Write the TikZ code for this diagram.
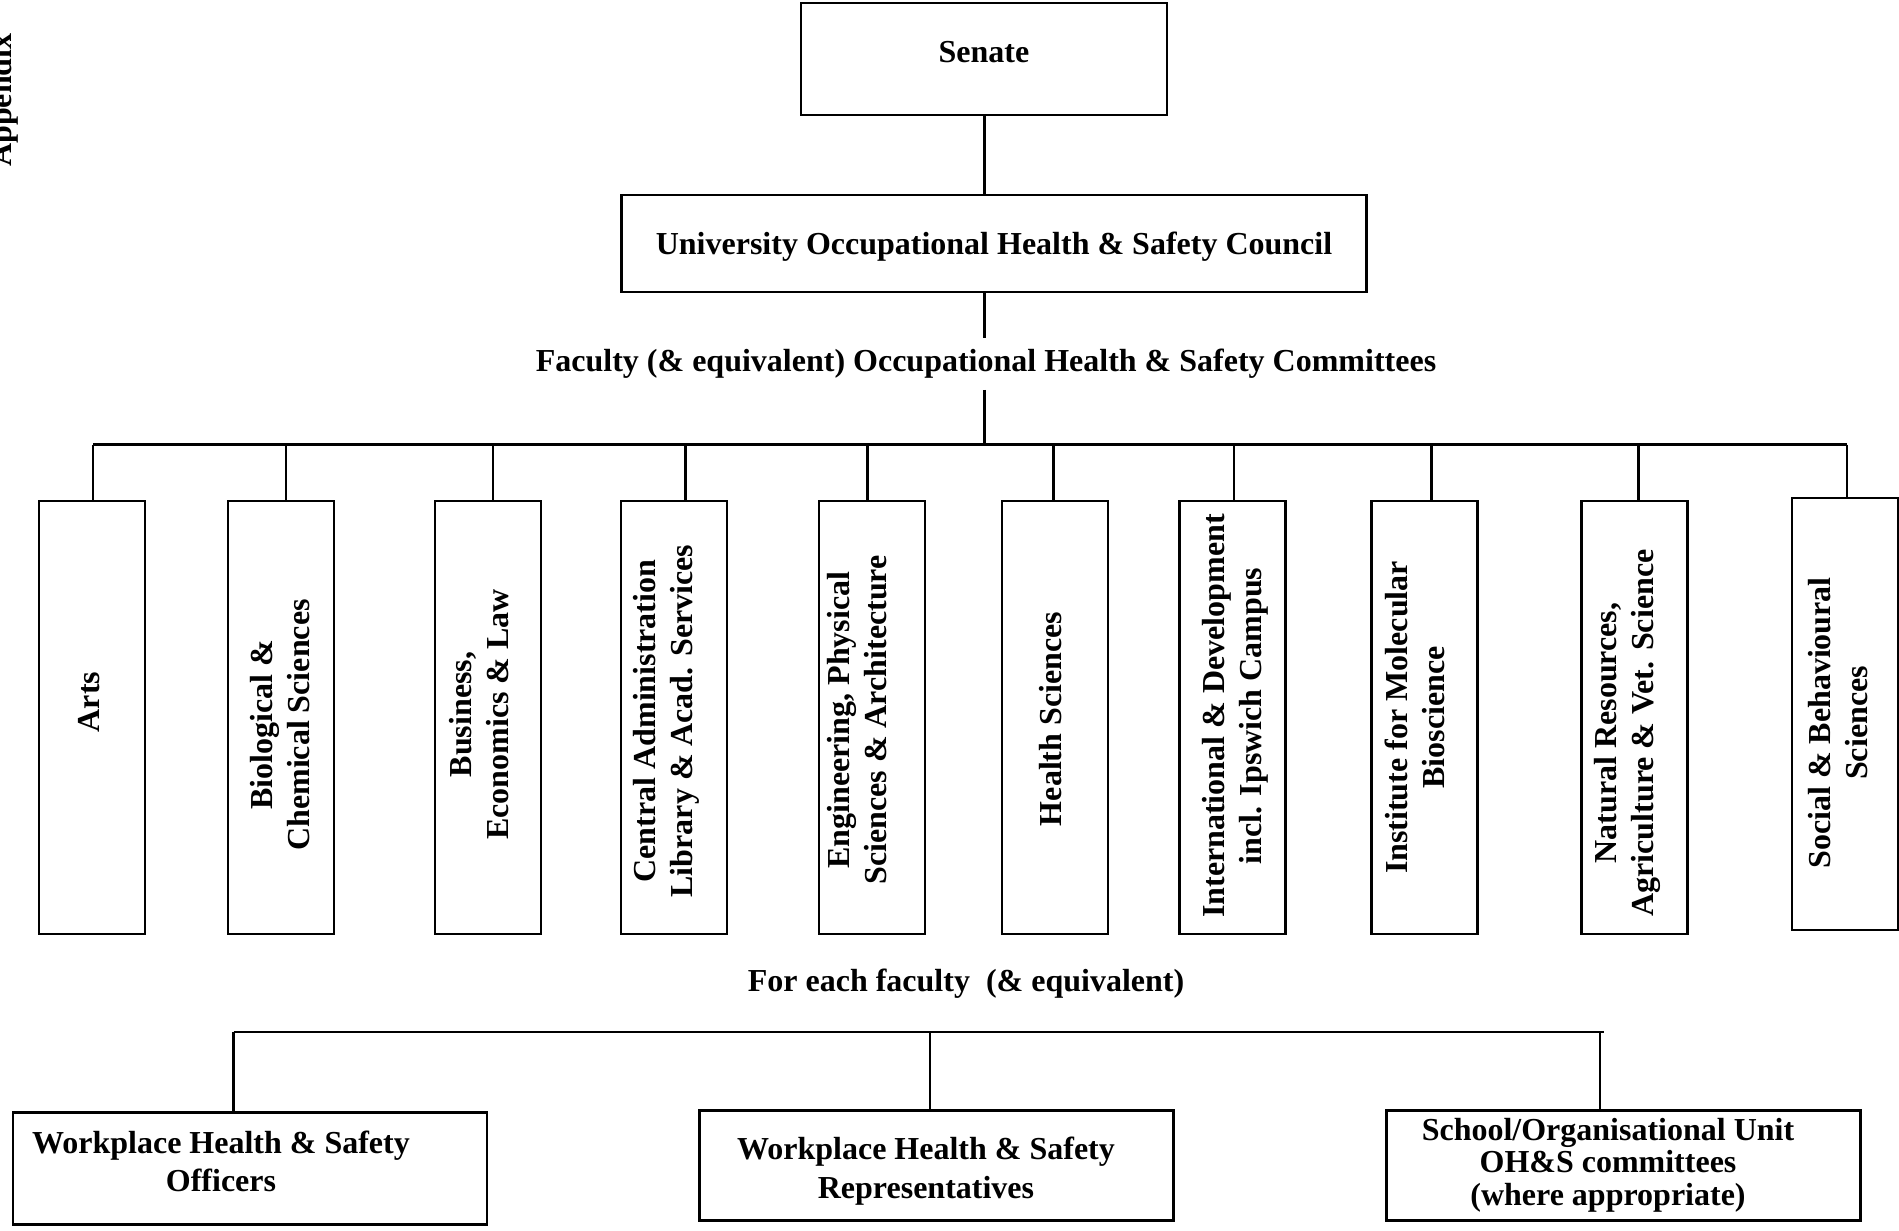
\documentclass[tikz,border=0pt]{standalone}
\usepackage{fontspec}
\setmainfont{Liberation Serif}
\begin{document}
\begin{tikzpicture}[x=1pt,y=-1pt,
  box/.style={draw, line width=2.6pt, inner sep=0pt},
  fbox/.style={box, minimum width=106pt, minimum height=433pt},
  bbox/.style={box, minimum width=474pt, minimum height=110pt},
  txt/.style={font=\fontsize{32}{37}\selectfont\bfseries, align=center, inner sep=0pt},
  vtxt/.style={txt, rotate=90},
  conn/.style={line width=2.6pt}]
\useasboundingbox (0,0) rectangle (1899,1231);

% clipped side heading
\node[txt, rotate=90, anchor=base west] (appx) at (12,167) {Appendix};

% top
\node[box, minimum width=366pt, minimum height=112pt] (senate) at (984,59) {};
\node[txt] (senateT) at (984,52) {Senate};
\node[box, minimum width=745pt, minimum height=97pt] (uohs) at (993.7,243.5) {};
\node[txt] (uohsT) at (994,247) {University Occupational Health \& Safety Council};
\node[txt, inner ysep=11pt] (facT) at (986,364) {Faculty (\& equivalent) Occupational Health \& Safety Committees};

\coordinate (busC) at (984.6,444.5);
\draw[conn] (senate.south -| busC) -- (uohs.north -| busC);
\draw[conn] (uohs.south -| busC) -- (facT.north -| busC);
\draw[conn] (facT.south -| busC) -- (busC);

% faculty boxes
\node[fbox] (arts) at (92,717.5) {};
\node[fbox] (bio) at (281,717.5) {};
\node[fbox] (bel) at (488,717.5) {};
\node[fbox] (cent) at (674,717.5) {};
\node[fbox] (eng) at (872,717.5) {};
\node[fbox] (hlth) at (1055,717.5) {};
\node[fbox] (intl) at (1232.3,717.5) {};
\node[fbox] (imb) at (1424.3,717.5) {};
\node[fbox] (nat) at (1634.4,717.5) {};
\node[fbox, minimum height=432pt] (soc) at (1845.1,714) {};

\node[vtxt] (artsT) at (89.5,702) {Arts};
\node[vtxt] (bioT) at (280.5,725) {Biological \&\\Chemical Sciences};
\node[vtxt] (belT) at (479.5,714.5) {Business,\\Economics \& Law};
\node[vtxt] (centT) at (666,721) {Central Administration\\Library \& Acad. Services};
\node[vtxt] (engT) at (857.5,720) {Engineering, Physical\\Sciences \& Architecture};
\node[vtxt] (hlthT) at (1051,719) {Health Sciences};
\node[vtxt] (intlT) at (1235,716) {International \& Development\\incl. Ipswich Campus};
\node[vtxt] (imbT) at (1414.5,717.5) {Institute for Molecular\\Bioscience};
\node[vtxt] (natT) at (1627,733) {Natural Resources,\\Agriculture \& Vet. Science};
\node[vtxt] (socT) at (1838.5,723) {Social \& Behavioural\\Sciences};

\coordinate (dArts) at (93,444.5);
\coordinate (dBio) at (285.8,444.5);
\coordinate (dBel) at (493,444.5);
\coordinate (dCent) at (685.5,444.5);
\coordinate (dEng) at (867.2,444.5);
\coordinate (dHlth) at (1053.7,444.5);
\coordinate (dIntl) at (1234,444.5);
\coordinate (dImb) at (1431.5,444.5);
\coordinate (dNat) at (1638.6,444.5);
\coordinate (dSoc) at (1847,444.5);

\draw[conn] (dArts) -- (dSoc);
\foreach \d/\n in {dArts/arts,dBio/bio,dBel/bel,dCent/cent,dEng/eng,dHlth/hlth,dIntl/intl,dImb/imb,dNat/nat,dSoc/soc}
  \draw[conn] (\d) -- (\d |- \n.north);

% lower part
\node[txt] (eachT) at (966,984) {For each faculty\ \ (\& equivalent)};

\node[box, minimum width=474pt, minimum height=112pt] (off) at (250.1,1168.5) {};
\node[bbox] (rep) at (936.2,1165.7) {};
\node[bbox] (sch) at (1623.5,1165.7) {};

\node[txt, font=\fontsize{32}{38}\selectfont\bfseries] (offT) at (221,1161.5) {Workplace Health \& Safety\\Officers};
\node[txt, font=\fontsize{32}{38.5}\selectfont\bfseries] (repT) at (926,1171) {Workplace Health \& Safety\\Representatives};
\node[txt, font=\fontsize{32}{32.5}\selectfont\bfseries] (schT) at (1608,1165) {School/Organisational Unit\\OH\&S committees\\(where appropriate)};

\coordinate (bOff) at (233.7,1032);
\coordinate (bRep) at (930,1032);
\coordinate (bSch) at (1600,1032);
\coordinate (bEnd) at (1603.5,1032);
\draw[conn] (bOff) -- (bEnd);
\draw[conn] (bOff) -- (bOff |- off.north);
\draw[conn] (bRep) -- (bRep |- rep.north);
\draw[conn] (bSch) -- (bSch |- sch.north);
\end{tikzpicture}
\end{document}
